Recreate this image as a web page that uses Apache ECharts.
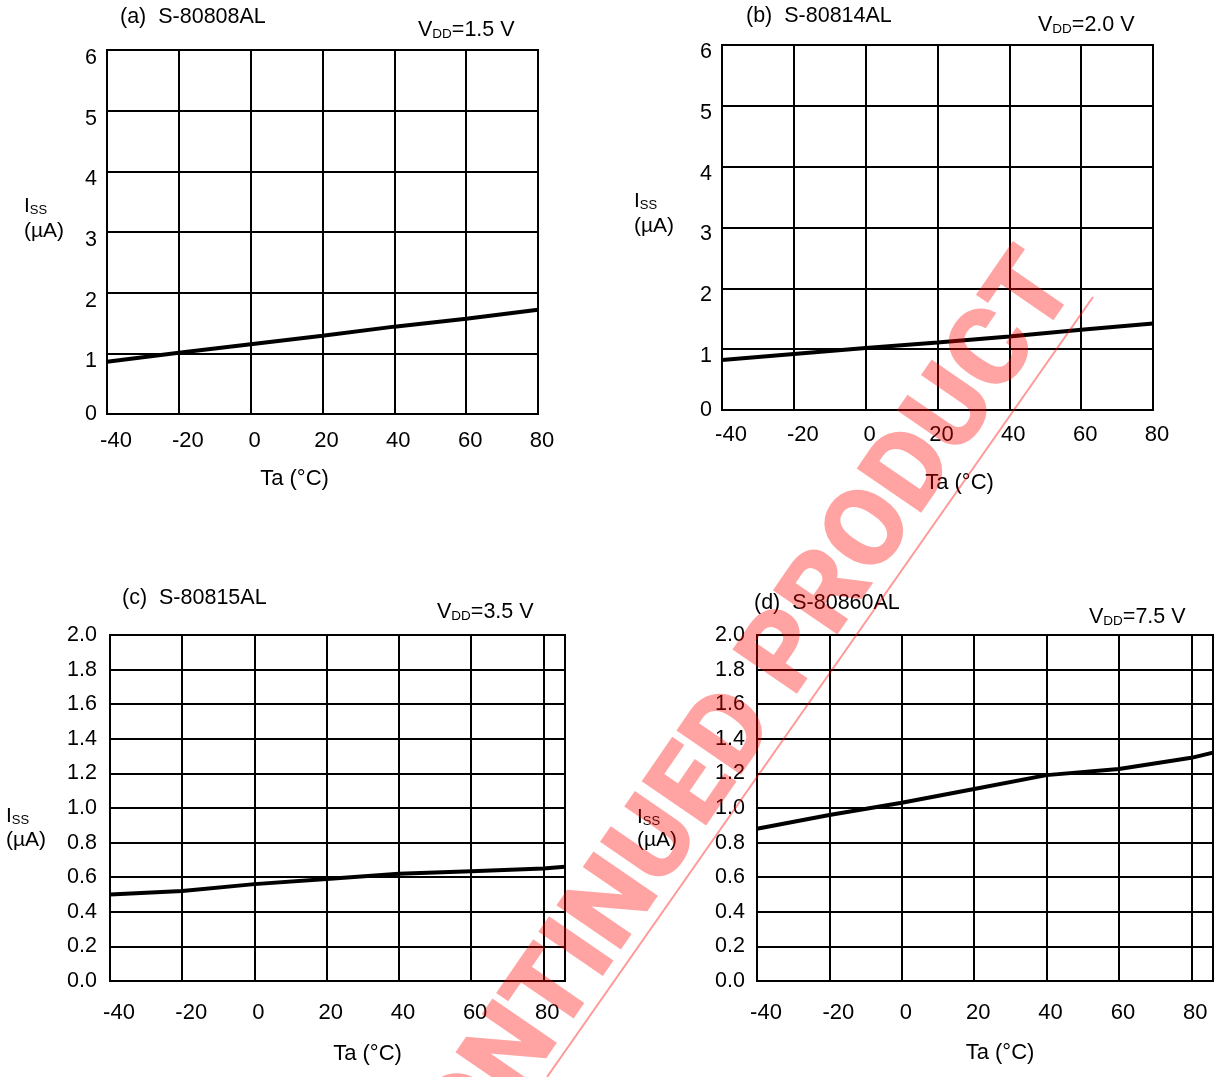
<!DOCTYPE html>
<html>
<head>
<meta charset="utf-8">
<script src="https://cdn.jsdelivr.net/npm/echarts@6/dist/echarts.min.js"></script>
<style>
html,body{margin:0;padding:0;background:#fff;}
#chart{width:1215px;height:1077px;}
</style>
</head>
<body>
<div id="chart"></div>
<script>
// ---- data ----
const tempsAB = [-40, -20, 0, 20, 40, 60, 80];
const tempsCD = [-40, -20, 0, 20, 40, 60, 80, 86];
const issA = [0.86, 1.01, 1.15, 1.29, 1.44, 1.57, 1.72];   // S-80808AL, VDD=1.5 V
const issB = [0.82, 0.92, 1.02, 1.11, 1.21, 1.32, 1.42];   // S-80814AL, VDD=2.0 V
const issC = [0.50, 0.52, 0.56, 0.59, 0.62, 0.635, 0.65, 0.66]; // S-80815AL, VDD=3.5 V
const issD = [0.88, 0.96, 1.03, 1.11, 1.19, 1.225, 1.29, 1.32]; // S-80860AL, VDD=7.5 V
const panelTitles = ['(a)  S-80808AL', '(b)  S-80814AL', '(c)  S-80815AL', '(d)  S-80860AL'];
const vddValues = ['=1.5 V', '=2.0 V', '=3.5 V', '=7.5 V'];
const xName = 'Ta (\u00B0C)';
const watermarkText = 'DISCONTINUED PRODUCT';

const FONT = '"Liberation Sans", Arial, Helvetica, sans-serif';
const WFONT = 'Roboto, "DejaVu Sans", sans-serif';
const zip = (xs, ys) => xs.map((x, i) => [x, ys[i]]);

const grids = [
  {left: 107, top: 50, right: 677, bottom: 663},
  {left: 722, top: 45, right: 62, bottom: 667},
  {left: 110, top: 635, right: 650, bottom: 96},
  {left: 757, top: 635, right: 2, bottom: 96}
];

const tickFont = {fontFamily: FONT, fontSize: 22, color: '#000'};

function xAxis(i, max, margin, nameGap, namePad) {
  return {
    type: 'value', gridIndex: i, min: -40, max: max, interval: 20,
    axisLine: {show: true, onZero: false, lineStyle: {color: '#000', width: 2}},
    axisTick: {show: false},
    splitLine: {show: true, lineStyle: {color: '#000', width: 2}},
    axisLabel: {color: '#000', fontFamily: FONT, fontSize: 22, margin: margin,
      showMaxLabel: max === 80, showMinLabel: true,
      formatter: v => (v < 0 ? '{n|' : '{p|') + v + '}',
      rich: {n: Object.assign({padding: [0, 0, 0, 18]}, tickFont),
             p: Object.assign({padding: [0, 0, 0, 8]}, tickFont)}},
    name: xName, nameLocation: 'middle', nameGap: nameGap,
    nameTextStyle: {color: '#000', fontFamily: FONT, fontSize: 22, padding: namePad}
  };
}
function yAxis(i, max, interval, dec, margin, shift) {
  return {
    type: 'value', gridIndex: i, min: 0, max: max, interval: interval,
    axisLine: {show: true, lineStyle: {color: '#000', width: 2}},
    axisTick: {show: false},
    splitLine: {show: true, lineStyle: {color: '#000', width: 2}},
    axisLabel: {color: '#000', fontFamily: FONT, fontSize: 21.5, margin: margin,
      formatter: v => {
        const s = dec ? v.toFixed(1) : String(Math.round(v));
        return (v === 0 ? '{z|' : '{s|') + s + '}';
      },
      rich: {z: {fontFamily: FONT, fontSize: 21.5, color: '#000'},
             s: {fontFamily: FONT, fontSize: 21.5, color: '#000', padding: [shift, 0, 0, 0]}}}
  };
}
function series(i, xs, ys) {
  return {
    type: 'line', xAxisIndex: i, yAxisIndex: i, data: zip(xs, ys),
    showSymbol: false, symbol: 'none', smooth: false,
    lineStyle: {color: '#000', width: 4}, z: 5, animation: false
  };
}

const titlePos = [[120, 17], [746, 16], [122, 598], [754, 603]];
const vddPos = [[418, 30], [1038, 25], [437, 612], [1089, 617]];
const issPos = [[24, 206, 231], [634, 201, 226], [6, 816, 840], [637, 817, 840]];

const graphics = [];
for (let i = 0; i < 4; i++) {
  graphics.push({type: 'text', x: titlePos[i][0], y: titlePos[i][1], z: 10,
    style: {text: panelTitles[i], font: '21.5px ' + FONT, fill: '#000', textVerticalAlign: 'middle'}});
  graphics.push({type: 'text', x: vddPos[i][0], y: vddPos[i][1], z: 10,
    style: {text: '{v|V}{s|DD}{v|' + vddValues[i] + '}', fill: '#000', textVerticalAlign: 'middle',
      rich: {v: {fontFamily: FONT, fontSize: 21.5, lineHeight: 22, fill: '#000'},
             s: {fontFamily: FONT, fontSize: 13.5, lineHeight: 9, verticalAlign: 'bottom', fill: '#000'}}}});
  graphics.push({type: 'text', x: issPos[i][0], y: issPos[i][1], z: 10,
    style: {text: '{v|I}{s|SS}', fill: '#000', textVerticalAlign: 'middle',
      rich: {v: {fontFamily: FONT, fontSize: 21, lineHeight: 21, fill: '#000'},
             s: {fontFamily: FONT, fontSize: 13, lineHeight: 12, verticalAlign: 'bottom', fill: '#000'}}}});
  graphics.push({type: 'text', x: issPos[i][0], y: issPos[i][2], z: 10,
    style: {text: '(\u00B5A)', font: '21px ' + FONT, fill: '#000', textVerticalAlign: 'middle'}});
}
// watermark
graphics.push({type: 'text', x: 1056, y: 268, rotation: 55.5 * Math.PI / 180, z: 100,
  style: {text: watermarkText, font: '900 110px ' + WFONT, fill: 'rgba(255,0,0,0.36)',
    textAlign: 'right', textVerticalAlign: 'middle'}});
graphics.push({type: 'line', z: 100,
  shape: {x1: 1093, y1: 297, x2: 547, y2: 1077},
  style: {stroke: 'rgba(255,0,0,0.4)', lineWidth: 2}});

const option = {
  animation: false,
  backgroundColor: '#fff',
  grid: grids.map(g => Object.assign({show: true, borderColor: '#000', borderWidth: 2, backgroundColor: 'transparent'}, g)),
  xAxis: [
    xAxis(0, 80, 16, 54, [0, 56, 0, 0]),
    xAxis(1, 80, 14, 62, [0, 0, 0, 44]),
    xAxis(2, 86, 21, 62, [0, 0, 0, 60]),
    xAxis(3, 86, 21, 61, [0, 0, 0, 30])
  ],
  yAxis: [
    yAxis(0, 6, 1, false, 10, 16),
    yAxis(1, 6, 1, false, 10, 14),
    yAxis(2, 2, 0.2, true, 13, 0),
    yAxis(3, 2, 0.2, true, 12, 0)
  ],
  series: [
    series(0, tempsAB, issA),
    series(1, tempsAB, issB),
    series(2, tempsCD, issC),
    series(3, tempsCD, issD)
  ],
  graphic: graphics
};

const chart = echarts.init(document.getElementById('chart'), null, {renderer: 'canvas'});
chart.setOption(option);
</script>
</body>
</html>
